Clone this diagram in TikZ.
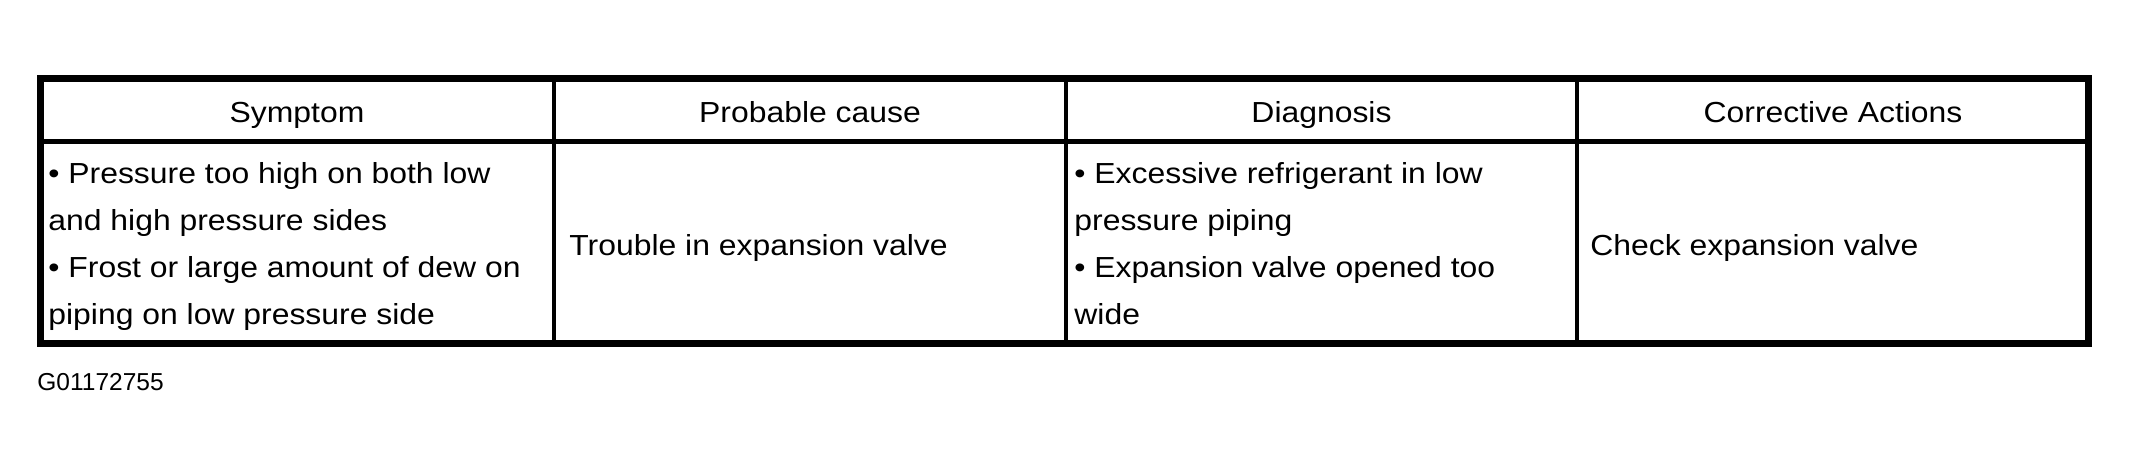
\documentclass[tikz,border=0pt]{standalone}
\usepackage{fontspec}
\newfontfamily\tabfont{Liberation Sans}[FakeStretch=1.1]
\newfontfamily\labfont{Liberation Sans}
\begin{document}
\begin{tikzpicture}[x=0.5pt,y=-0.5pt,
  outer/.style={line width=3.5pt},
  inner/.style={line width=2.3pt},
  head/.style={font=\tabfont\fontsize{14.5pt}{23.5pt}\selectfont, inner sep=0pt, anchor=base},
  cell/.style={font=\tabfont\fontsize{14.5pt}{23.5pt}\selectfont, inner sep=0pt, align=left},
  lab/.style={font=\labfont\fontsize{12.25pt}{14pt}\selectfont, inner sep=0pt, anchor=base west}]
\useasboundingbox (0,0) rectangle (2129,466);
\fill[white] (0,0) rectangle (2129,466);
% grid
\coordinate (tl) at (40.5,78.5);
\coordinate (br) at (2088.5,343);
\draw[inner] (40.5,141.5) -- (2088.5,141.5);
\draw[inner] (554,78.5) -- (554,343);
\draw[inner] (1066,78.5) -- (1066,343);
\draw[inner] (1577,78.5) -- (1577,343);
\draw[outer] (tl) rectangle (br);
% header
\node[head] (h1) at (297,122) {Symptom};
\node[head] (h2) at (810,122) {Probable cause};
\node[head] (h3) at (1321.5,122) {Diagnosis};
\node[head] (h4) at (1833,122) {Corrective Actions};
% body
\node[cell, anchor=north west] (c1) at (48,161.7) {• Pressure too high on both low\\and high pressure sides\\• Frost or large amount of dew on\\piping on low pressure side};
\node[cell, anchor=base west] (c2) at (569,255) {Trouble in expansion valve};
\node[cell, anchor=north west] (c3) at (1074,161.7) {• Excessive refrigerant in low\\pressure piping\\• Expansion valve opened too\\wide};
\node[cell, anchor=base west] (c4) at (1590,255) {Check expansion valve};
\node[lab] (g) at (37,390) {G01172755};
\end{tikzpicture}
\end{document}
